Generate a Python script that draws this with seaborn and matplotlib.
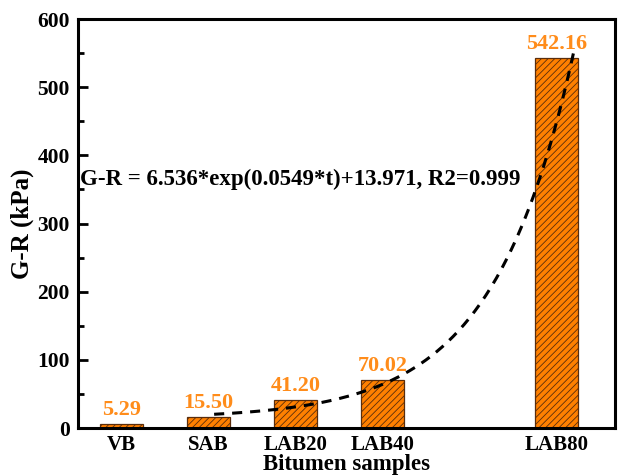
import numpy as np
import pandas as pd
import matplotlib
matplotlib.use("Agg")
import matplotlib.pyplot as plt
import seaborn as sns
from matplotlib.ticker import MultipleLocator

samples = ["VB", "SAB", "LAB20", "LAB40", "LAB80"]
positions = [1, 2, 3, 4, 6]
values = [5.29, 15.50, 41.20, 70.02, 542.16]
labels = ["5.29", "15.50", "41.20", "70.02", "542.16"]

# fitted curve parameters (from the equation in the chart)
fit_a, fit_b, fit_c = 6.536, 0.0549, 13.971
fit_t = np.linspace(-1, 80.5, 200)
fit_pos = 2.115 + fit_t * 0.0508
fit_val = fit_a * np.exp(fit_b * fit_t) + fit_c

sns.set_theme(style="white")
plt.rcParams['font.family'] = ['Liberation Serif', 'DejaVu Serif']
plt.rcParams['font.weight'] = 'bold'
plt.rcParams['hatch.color'] = '#4a2608'
plt.rcParams['hatch.linewidth'] = 0.6
for k in ['text.color', 'axes.labelcolor', 'xtick.color', 'ytick.color']:
    plt.rcParams[k] = 'black'

fig = plt.figure(figsize=(6.19, 4.76), dpi=100)
ax = fig.add_axes([0.126, 0.1008, 0.8675, 0.8592])

df = pd.DataFrame({"pos": positions, "val": values})
sns.barplot(data=df, x="pos", y="val", native_scale=True, width=0.5,
            color="#ff8000", saturation=1, edgecolor="#5a2d0c", linewidth=0.9, ax=ax)
for p in ax.patches:
    p.set_hatch("/////")
    p.set_facecolor("#ff8000")

curve = pd.DataFrame({"x": fit_pos, "y": fit_val})
sns.lineplot(data=curve, x="x", y="y", color="black", linewidth=2.2,
             linestyle=(0, (3.3, 2.6)), ax=ax)

for x, v, lab in zip(positions, values, labels):
    ax.annotate(lab, (x, v), xytext=(0, 3), textcoords="offset points",
                ha="center", va="bottom", color="#ff8c1a", fontsize=16,
                fontweight="bold")

ax.text(0.52, 364, "G-R = 6.536*exp(0.0549*t)+13.971, R2=0.999",
        ha="left", va="center", fontsize=16.5, fontweight="bold", color="black")

ax.set_xlim(0.5, 6.67)
ax.set_ylim(0, 600)
ax.set_xticks(positions)
ax.set_xticklabels(samples, fontsize=15, fontweight="bold")
ax.yaxis.set_major_locator(MultipleLocator(100))
ax.yaxis.set_minor_locator(MultipleLocator(50))
for t in ax.get_yticklabels():
    t.set_fontsize(15.5)
    t.set_fontweight("bold")
ax.tick_params(axis="y", which="major", direction="in", length=7, width=2, left=True, pad=6)
ax.tick_params(axis="y", which="minor", direction="in", length=4, width=2, left=True)
ax.tick_params(axis="x", which="both", length=0, pad=5)
ax.set_xlabel("Bitumen samples", fontsize=16.5, fontweight="bold", labelpad=-1)
ax.set_ylabel("G-R (kPa)", fontsize=18, fontweight="bold", labelpad=2)
for s in ax.spines.values():
    s.set_visible(True)
    s.set_color("black")
    s.set_linewidth(2.2)
ax.grid(False)
if ax.get_legend():
    ax.get_legend().remove()

fig.savefig("out.png", dpi=100)
